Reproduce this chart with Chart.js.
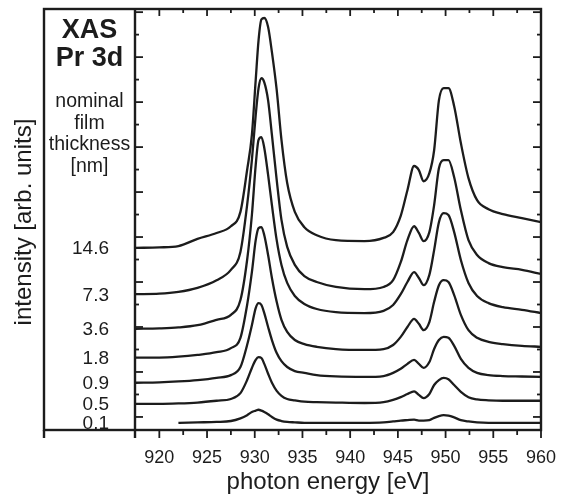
<!DOCTYPE html>
<html>
<head>
<meta charset="utf-8">
<script src="https://cdn.jsdelivr.net/npm/chart.js@4"></script>
<style>
  html, body { margin: 0; padding: 0; background: #fff; }
  #wrap { width: 565px; height: 496px; }
</style>
</head>
<body>
<div id="wrap"><canvas id="xas" width="565" height="496"></canvas></div>
<script>
// Pr 3d XAS spectra for several nominal film thicknesses (stacked, arb. units)
const energy = [917.5, 920, 922, 924, 926, 927.5, 928.5, 929.2, 929.7, 930.1,
  930.4, 930.7, 931.0, 931.4, 931.8, 932.3, 932.8, 933.4, 934.2, 935.2,
  936.5, 938.5, 941.5, 943.5, 944.5, 945.3, 946.0, 946.7, 947.2, 947.7,
  948.3, 948.8, 949.3, 949.8, 950.3, 950.9, 951.6, 952.4, 953.3, 954.5,
  956, 958, 960];

const thickness = ["14.6", "7.3", "3.6", "1.8", "0.9", "0.5", "0.1"];

const s146 = [37.6, 37.7, 38.0, 39.6, 40.9, 42.4, 45.6, 54.9, 62.7, 74.9,
  83.8, 88.4, 88.7, 86.7, 81.1, 72.7, 61.6, 52.0, 45.6, 42.2,
  40.4, 39.3, 39.1, 39.8, 41.1, 44.7, 50.4, 55.8, 54.9, 52.4,
  54.2, 59.3, 70.4, 73.1, 73.1, 69.1, 60.9, 53.1, 48.2, 46.2,
  45.1, 44.2, 43.3];
const s73 = [27.3, 27.4, 27.8, 28.7, 30.4, 32.7, 36.7, 47.1, 57.1, 67.1,
  73.1, 75.3, 74.4, 70.4, 62.7, 52.7, 43.8, 37.8, 33.8, 31.3,
  30.0, 28.9, 28.4, 28.9, 30.4, 34.4, 39.3, 42.4, 40.9, 39.1,
  41.1, 47.1, 55.3, 57.1, 57.1, 53.3, 46.0, 39.3, 36.0, 34.2,
  33.3, 32.7, 31.8];
const s36 = [19.6, 19.7, 19.9, 20.4, 21.6, 22.7, 26.0, 34.9, 44.9, 56.0,
  61.6, 62.2, 59.8, 53.8, 47.1, 39.3, 33.8, 29.8, 26.9, 25.1,
  24.0, 23.3, 23.1, 23.6, 24.9, 27.3, 30.0, 32.2, 30.9, 29.3,
  31.6, 37.1, 43.3, 45.3, 44.9, 41.1, 34.9, 29.8, 26.9, 25.3,
  24.4, 23.8, 23.1];
const s18 = [13.2, 13.2, 13.4, 13.8, 14.4, 15.3, 17.6, 24.9, 32.2, 39.3,
  42.0, 42.2, 40.4, 36.0, 30.9, 25.6, 21.6, 18.9, 17.1, 16.2,
  15.6, 15.1, 14.9, 15.1, 16.0, 17.8, 20.0, 21.8, 20.7, 19.3,
  21.1, 25.6, 29.3, 30.4, 30.0, 27.1, 22.7, 19.3, 17.6, 16.7,
  16.2, 15.8, 15.6];
const s09 = [7.6, 7.7, 7.9, 8.2, 8.7, 9.3, 11.1, 16.0, 20.4, 24.2,
  25.3, 24.9, 23.1, 20.0, 17.1, 14.2, 12.4, 11.1, 10.2, 9.8,
  9.3, 9.0, 8.9, 9.1, 9.8, 10.7, 11.8, 12.7, 11.8, 10.9,
  12.2, 15.1, 17.1, 17.8, 17.6, 15.8, 12.9, 10.9, 9.8, 9.3,
  9.1, 9.0, 8.9];
const s05 = [2.9, 2.9, 3.0, 3.2, 3.6, 4.0, 5.3, 8.2, 10.9, 12.7,
  13.3, 13.1, 11.8, 9.6, 7.6, 5.8, 4.7, 4.0, 3.7, 3.4,
  3.3, 3.2, 3.1, 3.3, 3.8, 4.4, 5.1, 5.7, 4.9, 4.2,
  5.1, 7.1, 8.2, 8.7, 8.4, 7.1, 5.6, 4.4, 3.9, 3.7,
  3.6, 3.6, 3.6];
const s01 = [null, null, -1.3, -1.2, -1.1, -0.9, -0.3, 0.4, 1.1, 1.4,
  1.6, 1.4, 1.1, 0.6, 0.0, -0.6, -0.9, -1.1, -1.2, -1.3,
  -1.3, -1.3, -1.3, -1.2, -1.0, -0.8, -0.7, -0.6, -0.8, -0.8,
  -0.7, -0.2, 0.2, 0.4, 0.3, -0.1, -0.7, -1.0, -1.2, -1.3,
  -1.3, -1.3, -1.3];

const xMajor = [920, 925, 930, 935, 940, 945, 950, 955, 960];
const xMinor = [922.5, 927.5, 932.5, 937.5, 942.5, 947.5, 952.5, 957.5];
const yMajor = [0, 10, 20, 30, 40, 50, 60, 70, 80, 90];
const yMinor = [5, 15, 25, 35, 45, 55, 65, 75, 85];

const INK = "#1c1c1c";
const FONT = '"Liberation Sans", Arial, Helvetica, sans-serif';
const PANEL_LEFT = 44;

const seriesList = [s146, s73, s36, s18, s09, s05, s01];

function toPoints(vals) {
  return energy.map((e, i) => ({ x: e, y: vals[i] }));
}

function seg(ctx, x1, y1, x2, y2) {
  ctx.beginPath(); ctx.moveTo(x1, y1); ctx.lineTo(x2, y2); ctx.stroke();
}

const framePlugin = {
  id: "frame",
  afterDraw(chart) {
    const { ctx, chartArea: a } = chart;
    const xs = chart.scales.x, ys = chart.scales.y;
    ctx.save();
    ctx.strokeStyle = INK;
    ctx.lineWidth = 2.4;
    ctx.lineCap = "butt";

    // outer box + divider between label panel and plot
    ctx.strokeRect(PANEL_LEFT, a.top, a.right - PANEL_LEFT, a.bottom - a.top);
    seg(ctx, a.left, a.top, a.left, a.bottom + 8);
    seg(ctx, PANEL_LEFT, a.bottom, PANEL_LEFT, a.bottom + 8);

    ctx.lineWidth = 1.8;
    // x ticks: outward at bottom, inward at top
    xMajor.forEach(v => {
      const px = xs.getPixelForValue(v);
      seg(ctx, px, a.bottom, px, a.bottom + 8);
      seg(ctx, px, a.top, px, a.top + 7);
    });
    xMinor.forEach(v => {
      const px = xs.getPixelForValue(v);
      seg(ctx, px, a.bottom, px, a.bottom + 5);
      seg(ctx, px, a.top, px, a.top + 4);
    });
    // y ticks: inward on both sides
    yMajor.forEach(v => {
      const py = ys.getPixelForValue(v);
      seg(ctx, a.left, py, a.left + 8, py);
      seg(ctx, a.right, py, a.right - 8, py);
    });
    yMinor.forEach(v => {
      const py = ys.getPixelForValue(v);
      seg(ctx, a.left, py, a.left + 4, py);
      seg(ctx, a.right, py, a.right - 4, py);
    });

    ctx.fillStyle = INK;
    // x tick labels
    ctx.font = "18px " + FONT;
    ctx.textAlign = "center";
    ctx.textBaseline = "alphabetic";
    xMajor.forEach(v => ctx.fillText(String(v), xs.getPixelForValue(v), a.bottom + 33));

    // axis titles
    ctx.font = "24px " + FONT;
    ctx.fillText("photon energy [eV]", 328, 489);
    ctx.save();
    ctx.translate(31, 222);
    ctx.rotate(-Math.PI / 2);
    ctx.fillText("intensity [arb. units]", 0, 0);
    ctx.restore();

    // label panel
    const cx = (PANEL_LEFT + a.left) / 2;
    ctx.font = "bold 27px " + FONT;
    ctx.fillText("XAS", cx, 38);
    ctx.fillText("Pr 3d", cx, 66);
    ctx.font = "19.5px " + FONT;
    ["nominal", "film", "thickness", "[nm]"].forEach((t, i) => ctx.fillText(t, cx, 107 + i * 21.5));

    // thickness labels next to each trace's left end
    ctx.font = "19px " + FONT;
    ctx.textAlign = "right";
    seriesList.forEach((s, i) => {
      const first = s.find(v => v !== null);
      const py = ys.getPixelForValue(first);
      ctx.fillText(thickness[i], 109, py + 6.5);
    });
    ctx.restore();
  }
};

new Chart(document.getElementById("xas"), {
  type: "line",
  data: {
    datasets: seriesList.map((s, i) => ({
      label: thickness[i],
      data: toPoints(s),
      borderColor: INK,
      borderWidth: 2.3,
      pointRadius: 0,
      fill: false,
      cubicInterpolationMode: "monotone",
      spanGaps: false
    }))
  },
  options: {
    responsive: false,
    animation: false,
    events: [],
    layout: { padding: { left: 135, right: 24, top: 9, bottom: 66 } },
    plugins: { legend: { display: false }, tooltip: { enabled: false } },
    scales: {
      x: { type: "linear", min: 917.45, max: 960, display: false },
      y: { type: "linear", min: -2.9, max: 90.7, display: false }
    }
  },
  plugins: [framePlugin]
});
</script>
</body>
</html>
